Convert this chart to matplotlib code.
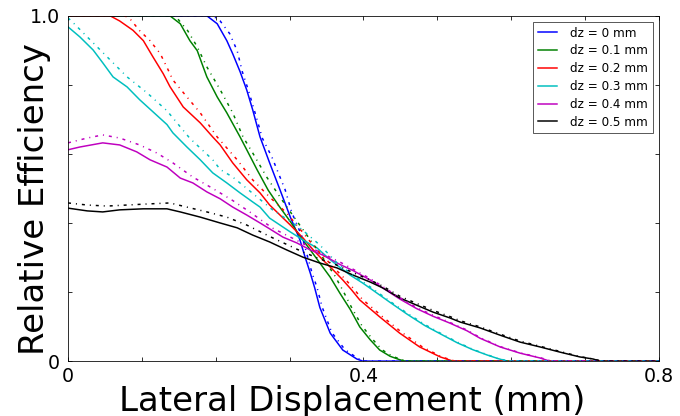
import matplotlib
matplotlib.use("Agg")
import matplotlib.pyplot as plt

# dz labels and colours
labels = ["dz = 0 mm", "dz = 0.1 mm", "dz = 0.2 mm", "dz = 0.3 mm", "dz = 0.4 mm", "dz = 0.5 mm"]
colors = ["b", "g", "r", "c", "m", "k"]

# solid curves (lateral displacement in mm, relative efficiency)
x0 = [0, 0.188, 0.202, 0.215, 0.223, 0.233, 0.242, 0.250, 0.260, 0.273, 0.287, 0.301, 0.314, 0.321, 0.328, 0.334, 0.341, 0.355, 0.372, 0.391, 0.399, 0.8]
y0 = [1, 1, 0.977, 0.928, 0.890, 0.838, 0.785, 0.728, 0.649, 0.574, 0.496, 0.417, 0.351, 0.301, 0.255, 0.212, 0.155, 0.081, 0.032, 0.006, 0, 0]
x1 = [0, 0.138, 0.152, 0.165, 0.175, 0.183, 0.188, 0.202, 0.215, 0.233, 0.242, 0.256, 0.271, 0.286, 0.301, 0.314, 0.328, 0.341, 0.355, 0.368, 0.382, 0.395, 0.409, 0.422, 0.436, 0.449, 0.456, 0.8]
y1 = [1, 1, 0.977, 0.928, 0.899, 0.852, 0.823, 0.765, 0.719, 0.649, 0.612, 0.554, 0.495, 0.448, 0.404, 0.362, 0.322, 0.284, 0.243, 0.197, 0.150, 0.099, 0.062, 0.032, 0.014, 0.004, 0, 0]
x2 = [0, 0.057, 0.070, 0.088, 0.102, 0.115, 0.129, 0.138, 0.156, 0.179, 0.196, 0.206, 0.223, 0.242, 0.260, 0.273, 0.287, 0.301, 0.318, 0.332, 0.345, 0.359, 0.372, 0.384, 0.395, 0.422, 0.449, 0.476, 0.504, 0.521, 0.8]
y2 = [1, 1, 0.985, 0.958, 0.928, 0.881, 0.832, 0.795, 0.736, 0.690, 0.649, 0.626, 0.574, 0.525, 0.487, 0.452, 0.423, 0.394, 0.357, 0.322, 0.293, 0.264, 0.235, 0.206, 0.177, 0.128, 0.081, 0.041, 0.012, 0, 0]
x3 = [0, 0.016, 0.034, 0.047, 0.061, 0.080, 0.097, 0.115, 0.134, 0.142, 0.161, 0.179, 0.196, 0.215, 0.233, 0.250, 0.260, 0.273, 0.287, 0.301, 0.318, 0.337, 0.351, 0.364, 0.382, 0.399, 0.413, 0.436, 0.459, 0.483, 0.504, 0.527, 0.548, 0.567, 0.581, 0.594, 0.8]
y3 = [0.968, 0.939, 0.901, 0.864, 0.823, 0.794, 0.757, 0.722, 0.685, 0.661, 0.620, 0.583, 0.545, 0.516, 0.487, 0.461, 0.446, 0.414, 0.394, 0.374, 0.351, 0.328, 0.301, 0.278, 0.249, 0.226, 0.205, 0.170, 0.136, 0.103, 0.079, 0.053, 0.033, 0.018, 0.008, 0, 0]
x4 = [0, 0.016, 0.047, 0.070, 0.093, 0.111, 0.134, 0.152, 0.169, 0.188, 0.206, 0.223, 0.242, 0.260, 0.273, 0.291, 0.310, 0.328, 0.345, 0.368, 0.386, 0.409, 0.426, 0.449, 0.472, 0.494, 0.517, 0.540, 0.558, 0.585, 0.612, 0.639, 0.652, 0.8]
y4 = [0.612, 0.620, 0.632, 0.626, 0.606, 0.583, 0.562, 0.530, 0.516, 0.490, 0.470, 0.446, 0.423, 0.400, 0.383, 0.359, 0.342, 0.322, 0.307, 0.280, 0.262, 0.235, 0.212, 0.180, 0.152, 0.130, 0.110, 0.088, 0.066, 0.041, 0.023, 0.009, 0, 0]
x5 = [0, 0.026, 0.047, 0.070, 0.102, 0.134, 0.152, 0.179, 0.206, 0.229, 0.250, 0.273, 0.296, 0.318, 0.341, 0.364, 0.386, 0.409, 0.426, 0.449, 0.472, 0.494, 0.517, 0.531, 0.558, 0.585, 0.612, 0.639, 0.666, 0.693, 0.711, 0.720, 0.8]
y5 = [0.443, 0.435, 0.432, 0.438, 0.441, 0.441, 0.432, 0.417, 0.400, 0.386, 0.365, 0.345, 0.322, 0.301, 0.284, 0.270, 0.249, 0.229, 0.212, 0.183, 0.162, 0.142, 0.125, 0.113, 0.096, 0.075, 0.055, 0.041, 0.026, 0.012, 0.006, 0, 0]

# dash-dot curves
u0 = [0, 0.196, 0.206, 0.219, 0.229, 0.236, 0.244, 0.256, 0.263, 0.276, 0.294, 0.303, 0.317, 0.324, 0.330, 0.337, 0.344, 0.357, 0.375, 0.393, 0.402, 0.8]
v0 = [1, 1, 0.985, 0.948, 0.899, 0.838, 0.786, 0.699, 0.646, 0.591, 0.496, 0.430, 0.360, 0.305, 0.258, 0.214, 0.157, 0.083, 0.033, 0.007, 0, 0]
u1 = [0, 0.145, 0.149, 0.162, 0.175, 0.188, 0.206, 0.223, 0.237, 0.250, 0.269, 0.287, 0.305, 0.321, 0.334, 0.348, 0.361, 0.372, 0.384, 0.398, 0.412, 0.425, 0.439, 0.452, 0.459, 0.8]
v1 = [1, 1, 0.990, 0.957, 0.910, 0.852, 0.786, 0.719, 0.649, 0.603, 0.533, 0.475, 0.420, 0.372, 0.333, 0.290, 0.248, 0.205, 0.155, 0.102, 0.064, 0.033, 0.014, 0.004, 0, 0]
u2 = [0, 0.077, 0.084, 0.097, 0.111, 0.125, 0.135, 0.142, 0.161, 0.179, 0.202, 0.229, 0.250, 0.273, 0.296, 0.318, 0.334, 0.348, 0.361, 0.375, 0.387, 0.398, 0.425, 0.452, 0.479, 0.506, 0.524, 0.8]
v2 = [1, 1, 0.991, 0.957, 0.928, 0.890, 0.846, 0.814, 0.765, 0.719, 0.649, 0.583, 0.525, 0.475, 0.429, 0.372, 0.330, 0.298, 0.268, 0.238, 0.209, 0.180, 0.130, 0.083, 0.042, 0.012, 0, 0]
u3 = [0, 0.007, 0.026, 0.053, 0.080, 0.107, 0.134, 0.165, 0.196, 0.206, 0.223, 0.242, 0.277, 0.314, 0.341, 0.364, 0.382, 0.399, 0.413, 0.436, 0.459, 0.483, 0.504, 0.527, 0.548, 0.567, 0.581, 0.597, 0.8]
v3 = [0.994, 0.980, 0.939, 0.881, 0.823, 0.777, 0.725, 0.645, 0.583, 0.555, 0.533, 0.500, 0.438, 0.386, 0.336, 0.285, 0.255, 0.230, 0.209, 0.173, 0.139, 0.106, 0.081, 0.055, 0.034, 0.019, 0.008, 0, 0]
u4 = [0, 0.026, 0.047, 0.070, 0.097, 0.120, 0.142, 0.169, 0.196, 0.223, 0.246, 0.277, 0.314, 0.341, 0.368, 0.386, 0.409, 0.426, 0.449, 0.472, 0.494, 0.517, 0.540, 0.558, 0.585, 0.612, 0.639, 0.655, 0.8]
v4 = [0.632, 0.646, 0.655, 0.646, 0.626, 0.603, 0.574, 0.533, 0.500, 0.465, 0.432, 0.385, 0.345, 0.315, 0.287, 0.266, 0.239, 0.216, 0.184, 0.155, 0.133, 0.112, 0.090, 0.068, 0.042, 0.024, 0.010, 0, 0]
u5 = [0, 0.026, 0.053, 0.080, 0.107, 0.138, 0.161, 0.188, 0.215, 0.242, 0.277, 0.318, 0.341, 0.364, 0.386, 0.409, 0.426, 0.449, 0.472, 0.494, 0.517, 0.531, 0.558, 0.585, 0.612, 0.639, 0.666, 0.693, 0.711, 0.723, 0.8]
v5 = [0.458, 0.452, 0.449, 0.452, 0.455, 0.458, 0.446, 0.432, 0.417, 0.394, 0.357, 0.316, 0.296, 0.278, 0.256, 0.235, 0.217, 0.188, 0.167, 0.147, 0.129, 0.117, 0.099, 0.078, 0.058, 0.043, 0.028, 0.013, 0.006, 0, 0]

solid = [(x0, y0), (x1, y1), (x2, y2), (x3, y3), (x4, y4), (x5, y5)]
dashed = [(u0, v0), (u1, v1), (u2, v2), (u3, v3), (u4, v4), (u5, v5)]

x_ticks = [0, 0.1, 0.2, 0.3, 0.4, 0.5, 0.6, 0.7, 0.8]
x_ticklabels = ["0", "", "", "", "0.4", "", "", "", "0.8"]
y_ticks = [0, 0.2, 0.4, 0.6, 0.8, 1.0]
y_ticklabels = ["0", "", "", "", "", "1.0"]

plt.rcParams['font.family'] = 'DejaVu Sans'
fig = plt.figure(figsize=(680 / 72, 416 / 72), dpi=72)
ax = fig.add_axes([0.1, 0.132, 0.869, 0.830])

for (x, y), c, lab in zip(solid, colors, labels):
    ax.plot(x, y, color=c, lw=1.5, label=lab)
for (x, y), c in zip(dashed, colors):
    ax.plot(x, y, color=c, lw=1.5, dashes=(2, 3.3, 0.7, 3.3))

ax.set_xlim(0, 0.8)
ax.set_ylim(0, 1.0)
ax.set_xticks(x_ticks)
ax.set_xticklabels(x_ticklabels)
ax.set_yticks(y_ticks)
ax.set_yticklabels(y_ticklabels)
ax.tick_params(direction='in', top=True, right=True, length=4, width=0.8, labelsize=19)
ax.tick_params(axis='y', pad=8)
ax.tick_params(axis='x', pad=6)

ax.set_xlabel("Lateral Displacement (mm)", fontsize=34)
ax.xaxis.set_label_coords(0.4805, -0.068)
ax.set_ylabel("Relative Efficiency", fontsize=34)
ax.yaxis.set_label_coords(-0.029, 0.47)

leg = ax.legend(loc='upper right', fontsize=12, fancybox=False, handlelength=1.6,
                handletextpad=1.1, labelspacing=0.4, borderaxespad=0.5)
leg.get_frame().set_edgecolor('black')
leg.get_frame().set_linewidth(0.8)

fig.savefig("out.png", dpi=72)
